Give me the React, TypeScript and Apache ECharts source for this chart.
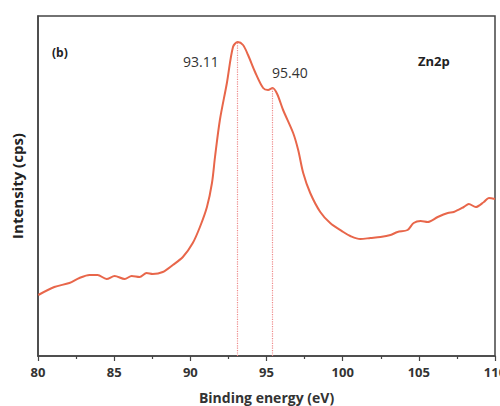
import React, { useEffect, useRef } from "react";
import * as echarts from "echarts";

const energy = [80.02, 81.07, 82.06, 82.72, 83.38, 83.91, 84.5, 85.03, 85.69, 86.15, 86.67, 87.13, 87.53, 88.19, 88.85, 89.51, 90.16, 90.63, 91.09, 91.42, 91.62, 91.94, 92.4, 92.8, 93.11, 93.46, 93.79, 94.25, 94.78, 95.1, 95.4, 95.7, 96.09, 96.75, 97.08, 97.41, 97.87, 98.53, 99.18, 100.04, 100.5, 101.16, 101.82, 102.48, 103.14, 103.6, 104.26, 104.66, 105.12, 105.58, 106.24, 106.9, 107.29, 107.95, 108.28, 108.74, 109.27, 109.6, 110.0];
const intensity = [61, 69, 73, 78, 81, 81, 77, 80, 77, 80, 79, 83, 82, 84, 91, 99, 113, 129, 149, 173, 199, 236, 273, 309, 314, 311, 301, 284, 268, 266, 268, 262, 246, 223, 206, 183, 163, 144, 133, 124, 120, 117, 118, 119, 121, 124, 126, 133, 135, 134, 139, 143, 144, 149, 152, 149, 154, 158, 157];
const peakLabels = ["93.11", "95.40"];
const peakEnergies = [93.11, 95.4];
const peakHeights = [314, 268];
const xTicks = [80, 85, 90, 95, 100, 105, 110];

export default function App() {
  const ref = useRef<HTMLDivElement>(null);
  useEffect(() => {
    if (!ref.current) return;
    const chart = echarts.init(ref.current, undefined, { renderer: "svg" });
    const font = "'Open Sans', 'Noto Sans', sans-serif";
    chart.setOption({
      animation: false,
      grid: { left: 38, right: 5, top: 16, bottom: 50, containLabel: false, outerBoundsMode: "none", show: true, borderColor: "#444", borderWidth: 1.5, backgroundColor: "transparent" },
      xAxis: {
        type: "value",
        min: xTicks[0],
        max: xTicks[xTicks.length - 1],
        interval: 5,
        name: "Binding energy (eV)",
        nameLocation: "middle",
        nameGap: 34,
        nameTextStyle: { fontFamily: font, fontWeight: "bold", fontSize: 14, color: "#333" },
        axisLine: { show: true, lineStyle: { color: "#444", width: 1.5 } },
        axisTick: { show: true, length: 5, inside: false, lineStyle: { color: "#444", width: 1.2 } },
        minorTick: { show: true, splitNumber: 2, length: 3, lineStyle: { color: "#444", width: 1.2 } },
        axisLabel: { fontFamily: font, fontWeight: "bold", fontSize: 13, color: "#333", margin: 9, hideOverlap: false },
        splitLine: { show: false },
      },
      yAxis: {
        type: "value",
        min: 0,
        max: 340,
        name: "Intensity (cps)",
        nameLocation: "middle",
        nameGap: 14,
        nameTextStyle: { fontFamily: font, fontWeight: "bold", fontSize: 15, color: "#222" },
        axisLine: { show: true, lineStyle: { color: "#444", width: 1.5 } },
        axisTick: { show: false },
        axisLabel: { show: false },
        splitLine: { show: false },
      },
      series: [
        {
          type: "line",
          data: energy.map((e, i) => [e, intensity[i]]),
          showSymbol: false,
          smooth: 0.3,
          lineStyle: { color: "#E8664A", width: 2 },
          markLine: {
            silent: true,
            symbol: "none",
            label: { show: false },
            lineStyle: { color: "#EE8A8A", type: "dotted", width: 1.2 },
            data: peakEnergies.map((e, i) => [{ coord: [e, 0] }, { coord: [e, peakHeights[i]] }]),
          },
        },
      ],
      graphic: [
        { type: "text", left: 52, top: 46, style: { text: "(b)", font: `bold 12px ${font}`, fill: "#222" } },
        { type: "text", left: 418, top: 54, style: { text: "Zn2p", font: `bold 13px ${font}`, fill: "#222" } },
        { type: "text", left: 183, top: 54, style: { text: peakLabels[0], font: `14px ${font}`, fill: "#333" } },
        { type: "text", left: 272, top: 65, style: { text: peakLabels[1], font: `14px ${font}`, fill: "#333" } },
      ],
    });
    return () => chart.dispose();
  }, []);
  return <div ref={ref} style={{ width: 500, height: 406, position: "absolute", left: 0, top: 0 }} />;
}
